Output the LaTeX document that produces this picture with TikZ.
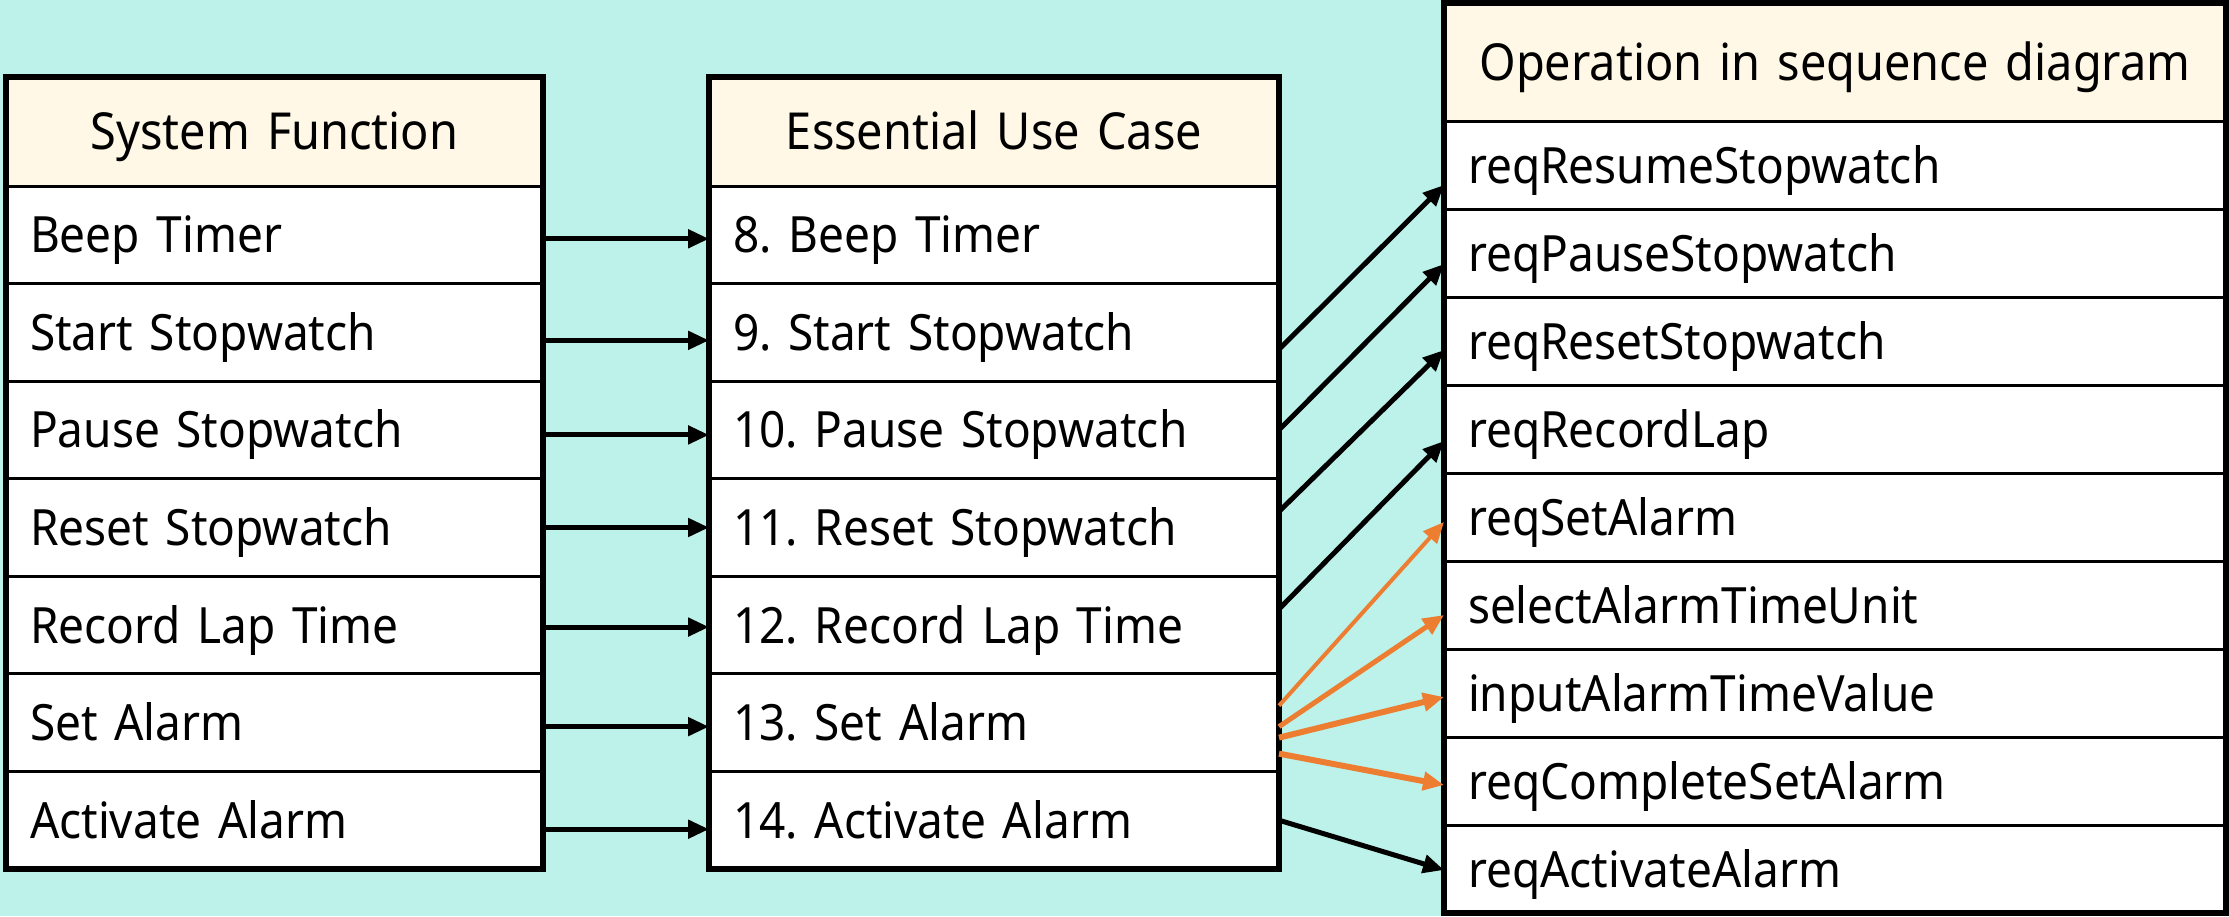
\documentclass[tikz,border=0pt]{standalone}
\usepackage{fontspec}
\setmainfont[FakeStretch=0.92]{Noto Sans}
\usetikzlibrary{arrows.meta}
\definecolor{bg}{RGB}{188,242,233}
\definecolor{hdr}{RGB}{255,248,230}
\definecolor{orng}{RGB}{237,125,49}
\frenchspacing
\begin{document}
\begin{tikzpicture}[x=1pt,y=-1pt,
  cell/.style={draw=black, line width=3pt, fill=white, anchor=north west, align=left,
    inner xsep=24pt, inner ysep=0pt, outer sep=0pt, text height=42pt, text depth=6pt,
    font=\fontsize{50}{58}\selectfont},
  hcell/.style={cell, fill=hdr, align=center, font=\fontsize{51}{59}\selectfont},
  rowA/.style={cell, text width=489pt, minimum height=97.57pt},
  rowB/.style={cell, text width=522pt, minimum height=97.57pt},
  rowC/.style={cell, text width=734pt, minimum height=88pt},
  frame/.style={line width=6.5pt},
  arr/.style={line width=5pt, -{Triangle[length=21pt,width=18pt]}},
  oarr/.style={draw=orng, line width=#1, -{Triangle[length=21pt,width=18pt]}}]
\useasboundingbox (0,0) rectangle (2229,916);
\fill[bg] (0,0) rectangle (2229,916);

% Table 1
\node[hcell, text width=489pt, minimum height=109pt] (a0) at (6,77) {System Function};
\node[rowA] (a1) at (a0.south west) {Beep Timer};
\node[rowA] (a2) at (a1.south west) {Start Stopwatch};
\node[rowA] (a3) at (a2.south west) {Pause Stopwatch};
\node[rowA] (a4) at (a3.south west) {Reset Stopwatch};
\node[rowA] (a5) at (a4.south west) {Record Lap Time};
\node[rowA] (a6) at (a5.south west) {Set Alarm};
\node[rowA] (a7) at (a6.south west) {Activate Alarm};
\draw[frame] (a0.north west) rectangle (a7.south east);

% Table 2
\node[hcell, text width=522pt, minimum height=109pt] (b0) at (709,77) {Essential Use Case};
\node[rowB] (b1) at (b0.south west) {8. Beep Timer};
\node[rowB] (b2) at (b1.south west) {9. Start Stopwatch};
\node[rowB] (b3) at (b2.south west) {10. Pause Stopwatch};
\node[rowB] (b4) at (b3.south west) {11. Reset Stopwatch};
\node[rowB] (b5) at (b4.south west) {12. Record Lap Time};
\node[rowB] (b6) at (b5.south west) {13. Set Alarm};
\node[rowB] (b7) at (b6.south west) {14. Activate Alarm};
\draw[frame] (b0.north west) rectangle (b7.south east);

% Table 3
\node[hcell, text width=734pt, minimum height=118pt] (c0) at (1444,3) {Operation in sequence diagram};
\node[rowC] (c1) at (c0.south west) {reqResumeStopwatch};
\node[rowC] (c2) at (c1.south west) {reqPauseStopwatch};
\node[rowC] (c3) at (c2.south west) {reqResetStopwatch};
\node[rowC] (c4) at (c3.south west) {reqRecordLap};
\node[rowC] (c5) at (c4.south west) {reqSetAlarm};
\node[rowC] (c6) at (c5.south west) {selectAlarmTimeUnit};
\node[rowC] (c7) at (c6.south west) {inputAlarmTimeValue};
\node[rowC] (c8) at (c7.south west) {reqCompleteSetAlarm};
\node[rowC] (c9) at (c8.south west) {reqActivateAlarm};
\draw[frame] (c0.north west) rectangle (c9.south east);

% Table 1 -> Table 2
\draw[arr] ([yshift=-4pt]a1.east) -- ([yshift=-4pt]b1.west);
\draw[arr] ([yshift=-8pt]a2.east) -- ([yshift=-8pt]b2.west);
\draw[arr] ([yshift=-5pt]a3.east) -- ([yshift=-5pt]b3.west);
\draw[arr] ([yshift=0pt]a4.east) -- ([yshift=0pt]b4.west);
\draw[arr] ([yshift=-2pt]a5.east) -- ([yshift=-2pt]b5.west);
\draw[arr] ([yshift=-4pt]a6.east) -- ([yshift=-4pt]b6.west);
\draw[arr] ([yshift=-9pt]a7.east) -- ([yshift=-9pt]b7.west);

% Table 2 -> Table 3
\draw[arr] ([yshift=-17pt]b2.east) -- ([yshift=-20pt]c1.west);
\draw[arr] ([yshift=0pt]b3.east) -- ([yshift=-11pt]c2.west);
\draw[arr] ([yshift=16pt]b4.east) -- ([yshift=-9pt]c3.west);
\draw[arr] ([yshift=16pt]b5.east) -- ([yshift=-12pt]c4.west);
\draw[oarr=4pt] ([yshift=17pt]b6.east) -- ([yshift=-5pt]c5.west);
\draw[oarr=5pt] ([yshift=-4pt]b6.east) -- ([yshift=-10pt]c6.west);
\draw[oarr=6pt] ([yshift=-15pt]b6.east) -- ([yshift=-4pt]c7.west);
\draw[oarr=6pt] ([yshift=-31pt]b6.east) -- ([yshift=-4pt]c8.west);
\draw[arr] ([yshift=0pt]b7.east) -- ([yshift=-1pt]c9.west);
\end{tikzpicture}
\end{document}
